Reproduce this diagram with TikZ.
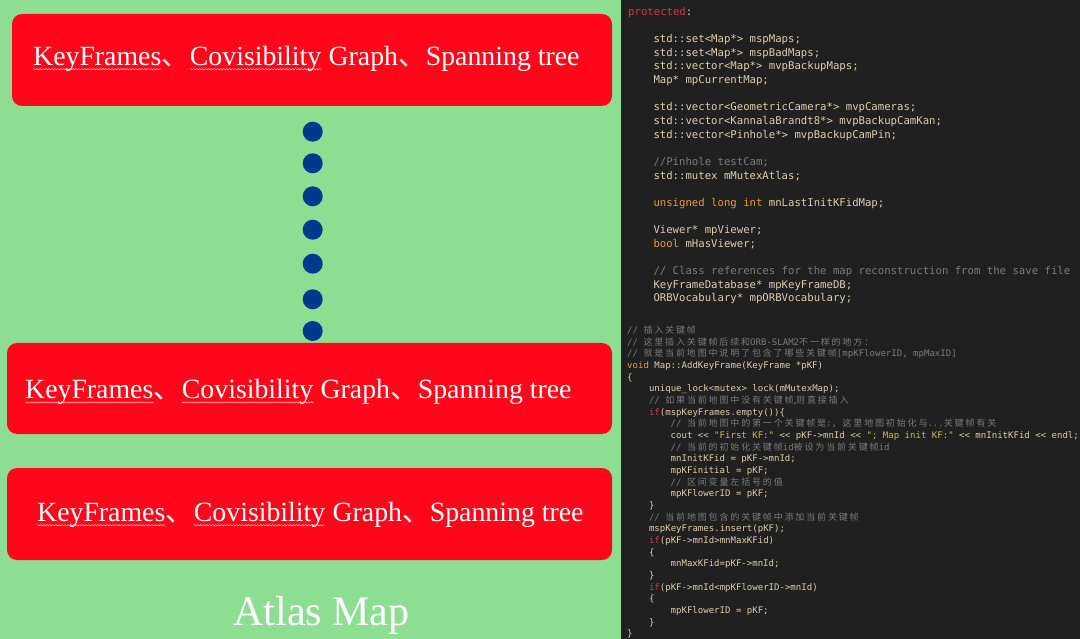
\documentclass[tikz,border=0pt]{standalone}
\usepackage{fontspec}
\usetikzlibrary{decorations.pathmorphing}
\setmainfont{Liberation Serif}
\newfontfamily\cjk{Noto Sans CJK SC}
\newfontfamily\mono{DejaVu Sans Mono}
\newfontfamily\zhcode[LetterSpace=20]{Noto Sans CJK SC}
\definecolor{greenbg}{RGB}{142,222,146}
\definecolor{redbox}{RGB}{255,6,26}
\definecolor{dotc}{RGB}{0,58,140}
\definecolor{darkbg}{RGB}{32,32,32}
\definecolor{codec}{RGB}{224,204,172}
\definecolor{cmc}{RGB}{122,122,122}
\definecolor{kwc}{RGB}{228,160,44}
\definecolor{rdc}{RGB}{205,58,70}
\definecolor{strc}{RGB}{200,190,70}
\definecolor{squigc}{RGB}{255,200,200}
\newcommand\zh[1]{{\zhcode #1}}
\newcommand\kw[1]{\textcolor{kwc}{#1}}
\newcommand\rd[1]{\textcolor{rdc}{#1}}
\newcommand\str[1]{\textcolor{strc}{#1}}
\tikzset{
  panelbox/.style={fill=redbox, draw=none, rounded corners=10pt},
  boxtext/.style={anchor=base west, text=white, inner sep=0pt, font=\fontsize{27.8}{30}\selectfont},
  squigline/.style={draw=squigc, line width=0.5pt, decorate, decoration={snake, amplitude=0.6pt, segment length=3pt}},
  dotnode/.style={circle, fill=dotc, minimum size=20pt, inner sep=0pt},
  codeA/.style={anchor=base west, inner sep=0pt, text=codec, font=\mono\fontsize{10.65}{12}\selectfont},
  codeB/.style={anchor=base west, inner sep=0pt, text=codec, font=\mono\fontsize{9.04}{11}\selectfont},
  cmt/.style={text=cmc}
}
\begin{document}
\begin{tikzpicture}[x=1pt,y=-1pt]
\useasboundingbox (0,0) rectangle (1080,639);
\fill[greenbg] (0,0) rectangle (621,639);
\fill[darkbg] (621,0) rectangle (1080,639);
% boxes
\path[panelbox] (12,14) rectangle (612,106);
\path[panelbox] (7,343) rectangle (612,434);
\path[panelbox] (7,468) rectangle (612,560);
\foreach \n/\x/\y in {1/33/65.7, 2/25/399, 3/37/521.7}{
  \node[boxtext] (k\n) at (\x,\y) {KeyFrames};
  \node[boxtext] (s\n) at (k\n.base east) {\cjk 、};
  \node[boxtext] (c\n) at (s\n.base east) {Covisibility};
  \node[boxtext] (g\n) at (c\n.base east) {\ Graph{\cjk 、}Spanning tree};
  \path[squigline] ([yshift=-3.5pt]k\n.base west) -- ([yshift=-3.5pt]k\n.base east);
  \path[squigline] ([yshift=-3.5pt]c\n.base west) -- ([yshift=-3.5pt]c\n.base east);
}
% dots
\foreach \y [count=\i] in {131.7,163.3,196.3,229.7,263.7,299.3,331}
  \node[dotnode] (dot\i) at (312.7,\y) {};
\node[anchor=base, text=white, inner sep=0pt, font=\fontsize{42}{44}\selectfont] (atlas) at (321.5,625) {Atlas Map};
% top code
\node[codeA] (a0) at (628,{15.3+13.65*0}) {\rd{protected}:};
\node[codeA] (a2) at (653.3,{15.3+13.65*2}) {std::set<Map*> mspMaps;};
\node[codeA] (a3) at (653.3,{15.3+13.65*3}) {std::set<Map*> mspBadMaps;};
\node[codeA] (a4) at (653.3,{15.3+13.65*4}) {std::vector<Map*> mvpBackupMaps;};
\node[codeA] (a5) at (653.3,{15.3+13.65*5}) {Map* mpCurrentMap;};
\node[codeA] (a7) at (653.3,{15.3+13.65*7}) {std::vector<GeometricCamera*> mvpCameras;};
\node[codeA] (a8) at (653.3,{15.3+13.65*8}) {std::vector<KannalaBrandt8*> mvpBackupCamKan;};
\node[codeA] (a9) at (653.3,{15.3+13.65*9}) {std::vector<Pinhole*> mvpBackupCamPin;};
\node[codeA,cmt] (a11) at (653.3,{15.3+13.65*11}) {//Pinhole testCam;};
\node[codeA] (a12) at (653.3,{15.3+13.65*12}) {std::mutex mMutexAtlas;};
\node[codeA] (a14) at (653.3,{15.3+13.65*14}) {\kw{unsigned long int} mnLastInitKFidMap;};
\node[codeA] (a16) at (653.3,{15.3+13.65*16}) {Viewer* mpViewer;};
\node[codeA] (a17) at (653.3,{15.3+13.65*17}) {\kw{bool} mHasViewer;};
\node[codeA,cmt] (a19) at (653.3,{15.3+13.65*19}) {// Class references for the map reconstruction from the save file};
\node[codeA] (a20) at (653.3,{15.3+13.65*20}) {KeyFrameDatabase* mpKeyFrameDB;};
\node[codeA] (a21) at (653.3,{15.3+13.65*21}) {ORBVocabulary* mpORBVocabulary;};
% bottom code
\node[codeB,cmt] (b0) at (627,{333.4+11.67*0}) {// \zh{插入关键帧}};
\node[codeB,cmt] (b1) at (627,{333.4+11.67*1}) {// \zh{这里插入关键帧后续和}ORB-SLAM2\zh{不一样的地方：}};
\node[codeB,cmt] (b2) at (627,{333.4+11.67*2}) {// \zh{就是当前地图中说明了包含了哪些关键帧}[mpKFlowerID, mpMaxID]};
\node[codeB] (b3) at (627,{333.4+11.67*3}) {\kw{void} Map::AddKeyFrame(KeyFrame *pKF)};
\node[codeB] (b4) at (627,{333.4+11.67*4}) {\{};
\node[codeB] (b5) at (648.8,{333.4+11.67*5}) {unique\_lock<mutex> lock(mMutexMap);};
\node[codeB,cmt] (b6) at (648.8,{333.4+11.67*6}) {// \zh{如果当前地图中没有关键帧}{\cjk ,}\zh{则直接插入}};
\node[codeB] (b7) at (648.8,{333.4+11.67*7}) {\rd{if}(mspKeyFrames.empty())\{};
\node[codeB,cmt] (b8) at (670.5,{333.4+11.67*8}) {// \zh{当前地图中的第一个关键帧是}:, \zh{这里地图初始化与}...\zh{关键帧有关}};
\node[codeB] (b9) at (670.5,{333.4+11.67*9}) {cout << \str{"First KF:"} << pKF->mnId << \str{"; Map init KF:"} << mnInitKFid << endl;};
\node[codeB,cmt] (b10) at (670.5,{333.4+11.67*10}) {// \zh{当前的初始化关键帧}id\zh{被设为当前关键帧}id};
\node[codeB] (b11) at (670.5,{333.4+11.67*11}) {mnInitKFid = pKF->mnId;};
\node[codeB] (b12) at (670.5,{333.4+11.67*12}) {mpKFinitial = pKF;};
\node[codeB,cmt] (b13) at (670.5,{333.4+11.67*13}) {// \zh{区间变量左括号的值}};
\node[codeB] (b14) at (670.5,{333.4+11.67*14}) {mpKFlowerID = pKF;};
\node[codeB] (b15) at (648.8,{333.4+11.67*15}) {\}};
\node[codeB,cmt] (b16) at (648.8,{333.4+11.67*16}) {// \zh{当前地图包含的关键帧中添加当前关键帧}};
\node[codeB] (b17) at (648.8,{333.4+11.67*17}) {mspKeyFrames.insert(pKF);};
\node[codeB] (b18) at (648.8,{333.4+11.67*18}) {\rd{if}(pKF->mnId>mnMaxKFid)};
\node[codeB] (b19) at (648.8,{333.4+11.67*19}) {\{};
\node[codeB] (b20) at (670.5,{333.4+11.67*20}) {mnMaxKFid=pKF->mnId;};
\node[codeB] (b21) at (648.8,{333.4+11.67*21}) {\}};
\node[codeB] (b22) at (648.8,{333.4+11.67*22}) {\rd{if}(pKF->mnId<mpKFlowerID->mnId)};
\node[codeB] (b23) at (648.8,{333.4+11.67*23}) {\{};
\node[codeB] (b24) at (670.5,{333.4+11.67*24}) {mpKFlowerID = pKF;};
\node[codeB] (b25) at (648.8,{333.4+11.67*25}) {\}};
\node[codeB] (b26) at (627,{333.4+11.67*26}) {\}};
\end{tikzpicture}
\end{document}
